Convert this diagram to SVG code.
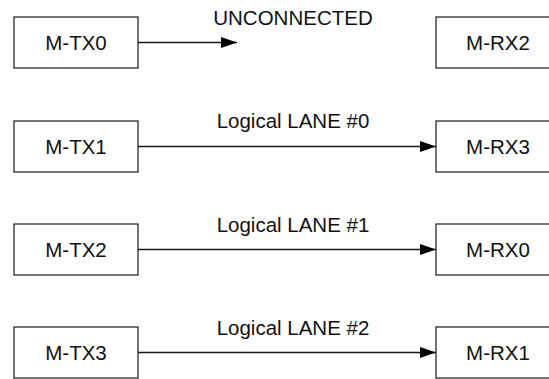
<svg xmlns="http://www.w3.org/2000/svg" width="549" height="379" viewBox="0 0 549 379">
<style>
  .box { fill: #ffffff; stroke: #1a1a1a; stroke-width: 1.2; }
  .lbl { font-family: "Liberation Sans", Arial, sans-serif; font-size: 20.5px; fill: #111111; text-anchor: middle; }
  .wire { stroke: #1a1a1a; stroke-width: 1.3; fill: none; }
</style>
<defs>
  <marker id="arrow" markerUnits="userSpaceOnUse" markerWidth="17" markerHeight="12" refX="16" refY="5.5" orient="auto">
    <path d="M0,0 L16,5.5 L0,11 Z" fill="#000000"/>
  </marker>
</defs>
<rect width="549" height="379" fill="#ffffff"/>
<g id="connectors">
  <line class="wire" x1="138" y1="42.5" x2="237" y2="42.5" marker-end="url(#arrow)"/>
  <line class="wire" x1="138" y1="146.5" x2="436" y2="146.5" marker-end="url(#arrow)"/>
  <line class="wire" x1="138" y1="249.5" x2="436" y2="249.5" marker-end="url(#arrow)"/>
  <line class="wire" x1="138" y1="352.5" x2="436" y2="352.5" marker-end="url(#arrow)"/>
  <text class="lbl" x="293" y="25">UNCONNECTED</text>
  <text class="lbl" x="293" y="128">Logical LANE #0</text>
  <text class="lbl" x="293" y="232">Logical LANE #1</text>
  <text class="lbl" x="293" y="335">Logical LANE #2</text>
</g>
<g id="m-tx0"><rect class="box" x="14" y="17" width="124" height="51"/><text class="lbl" x="76" y="50">M-TX0</text></g>
<g id="m-tx1"><rect class="box" x="14" y="121" width="124" height="51"/><text class="lbl" x="76" y="154">M-TX1</text></g>
<g id="m-tx2"><rect class="box" x="14" y="224" width="124" height="51"/><text class="lbl" x="76" y="257">M-TX2</text></g>
<g id="m-tx3"><rect class="box" x="14" y="327" width="124" height="51"/><text class="lbl" x="76" y="360">M-TX3</text></g>
<g id="m-rx2"><rect class="box" x="436" y="17" width="124" height="51"/><text class="lbl" x="498" y="50">M-RX2</text></g>
<g id="m-rx3"><rect class="box" x="436" y="121" width="124" height="51"/><text class="lbl" x="498" y="154">M-RX3</text></g>
<g id="m-rx0"><rect class="box" x="436" y="224" width="124" height="51"/><text class="lbl" x="498" y="257">M-RX0</text></g>
<g id="m-rx1"><rect class="box" x="436" y="327" width="124" height="51"/><text class="lbl" x="498" y="360">M-RX1</text></g>
</svg>
